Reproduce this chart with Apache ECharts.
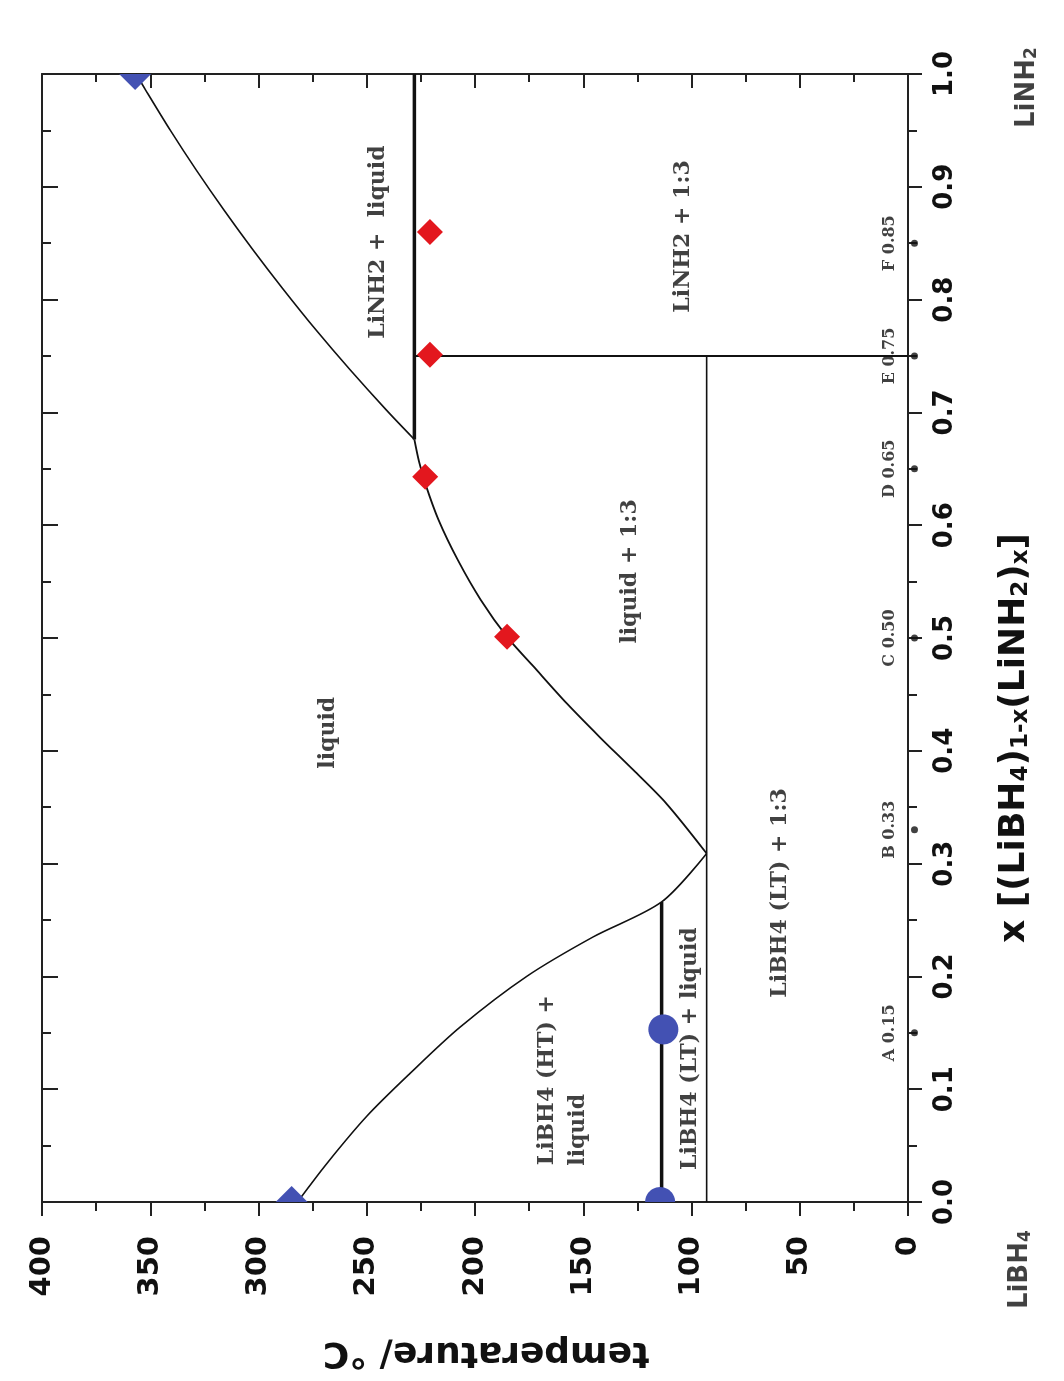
<!DOCTYPE html>
<html>
<head>
<meta charset="utf-8">
<script src="https://cdn.jsdelivr.net/npm/echarts@6/dist/echarts.min.js"></script>
<style>
  html, body { margin: 0; padding: 0; background: #ffffff; }
  #chart { width: 1064px; height: 1381px; }
</style>
</head>
<body>
<div id="chart"></div>
<script>
// Phase diagram of the LiBH4–LiNH2 system, drawn turned a quarter turn:
// temperature runs along the bottom (0 °C at the right), composition x up the right side.
// Every point is [temperature °C, x].

// Liquidus on the LiBH4-rich side, from the LiBH4 melting point down to the eutectic
const liquidusLiBH4 = [
  [282, 0.000], [268.5, 0.034], [250.0, 0.076], [230.0, 0.114], [206.9, 0.155],
  [176.1, 0.200], [145.4, 0.235], [113.8, 0.266], [93.0, 0.309]
];
// Liquidus of the 1:3 compound, from the eutectic up to the peritectic
const liquidus13 = [
  [93.0, 0.309], [111.5, 0.353], [126.9, 0.383], [142.3, 0.412], [157.6, 0.442],
  [173.1, 0.475], [185.2, 0.501], [197.4, 0.534], [207.9, 0.569], [216.9, 0.605],
  [222.8, 0.636], [225.8, 0.656], [228.0, 0.676]
];
// Liquidus on the LiNH2-rich side
const liquidusLiNH2 = [
  [228.0, 0.676], [240.9, 0.702], [257.8, 0.738], [273.4, 0.773], [288.5, 0.809],
  [302.5, 0.844], [315.8, 0.879], [328.8, 0.915], [340.7, 0.950], [352.2, 0.986],
  [356.5, 1.000]
];
// Invariant lines
const peritecticLine = [[228.0, 0.676], [228.0, 1.000]];
const lt_htTransition = [[113.8, 0.000], [113.8, 0.266]];
const eutecticLine = [[93.0, 0.000], [93.0, 0.750]];
const compound13Line = [[228.0, 0.750], [0.0, 0.750]];

// Measured thermal events
const dscPoints = [[223.0, 0.643], [185.2, 0.501], [220.8, 0.751], [220.8, 0.860]];
const pureCircles = [[114.5, 0.000], [113.0, 0.153]];
const pureDiamonds = [[284.7, 0.000], [357.0, 1.000]];

// Sample compositions marked on the composition axis
const sampleNames = ['A', 'B', 'C', 'D', 'E', 'F'];
const sampleX = [0.15, 0.33, 0.50, 0.65, 0.75, 0.85];

// Field labels: [temperature, x, text]
const fieldLabels = [
  [244.8, 0.851, 'LiNH2 +  liquid'],
  [103.9, 0.856, 'LiNH2 + 1:3'],
  [128.4, 0.559, 'liquid + 1:3'],
  [267.9, 0.416, 'liquid'],
  [59.1, 0.274, 'LiBH4 (LT) + 1:3'],
  [166.7, 0.108, 'LiBH4 (HT) +'],
  [152.4, 0.064, 'liquid'],
  [100.7, 0.136, 'LiBH4 (LT) + liquid']
];

// Axis ranges and tick steps
const tempRange = [0, 400], tempStep = 50;
const xRange = [0, 1], xStep = 0.1;

const AX = '#222';
const sansBold = { fontFamily: 'DejaVu Sans', fontWeight: 'bold', color: '#111' };
const serifBold = { fontFamily: 'DejaVu Serif', fontWeight: 'bold', color: '#111' };

function frameAxis(extra) {
  return Object.assign({
    type: 'value',
    axisLine: { show: true, onZero: false, lineStyle: { color: AX, width: 2 } },
    axisTick: { show: true, length: 14, lineStyle: { color: AX, width: 2 } },
    minorTick: { show: true, splitNumber: 2, length: 9, lineStyle: { color: AX, width: 2 } },
    splitLine: { show: false },
    minorSplitLine: { show: false }
  }, extra);
}

function lineSeries(data, width, smooth) {
  return {
    type: 'line', data: data, symbol: 'none', smooth: smooth || false, z: 3,
    lineStyle: { color: '#111', width: width }, silent: true, animation: false
  };
}

// Markers are cut at the plot frame: outline points are pulled onto the frame,
// so a marker sitting on an edge shows only its inner half.
function markerSeries(data, shape, color, size) {
  return {
    type: 'custom', data: data, z: 5, animation: false, silent: true,
    renderItem: function (params, api) {
      const p = api.coord([api.value(0), api.value(1)]);
      const cs = params.coordSys;
      const r = size / 2;
      let pts = [];
      if (shape === 'circle') {
        for (let k = 0; k < 48; k++) {
          const a = (k / 48) * Math.PI * 2;
          pts.push([p[0] + r * Math.cos(a), p[1] + r * Math.sin(a)]);
        }
      } else {
        pts = [[p[0], p[1] - r], [p[0] + r, p[1]], [p[0], p[1] + r], [p[0] - r, p[1]]];
      }
      pts = pts.map(function (q) {
        return [
          Math.min(Math.max(q[0], cs.x), cs.x + cs.width),
          Math.min(Math.max(q[1], cs.y), cs.y + cs.height)
        ];
      });
      return { type: 'polygon', shape: { points: pts }, style: { fill: color } };
    }
  };
}

const chart = echarts.init(document.getElementById('chart'), null, { renderer: 'canvas' });

chart.setOption({
  backgroundColor: '#ffffff',
  animation: false,
  grid: { left: 42, right: 156, top: 74, bottom: 179 },
  xAxis: [
    frameAxis({
      position: 'bottom', min: tempRange[0], max: tempRange[1], interval: tempStep, inverse: true,
      axisLabel: Object.assign({ rotate: 90, margin: 34, fontSize: 29 }, sansBold),
      name: 'temperature/ °C', nameLocation: 'middle', nameGap: 132, nameRotate: 180,
      nameTextStyle: Object.assign({ fontSize: 36, padding: [0, 22, 0, 0] }, sansBold)
    }),
    frameAxis({
      position: 'top', min: tempRange[0], max: tempRange[1], interval: tempStep, inverse: true,
      axisTick: { show: true, inside: true, length: 14, lineStyle: { color: AX, width: 2 } },
      minorTick: { show: true, splitNumber: 2, length: 8, lineStyle: { color: AX, width: 2 } },
      axisLabel: { show: false }
    })
  ],
  yAxis: [
    frameAxis({
      position: 'right', min: xRange[0], max: xRange[1], interval: xStep,
      axisLabel: Object.assign({
        rotate: 90, margin: 24, fontSize: 26,
        formatter: function (v) { return v.toFixed(1); }
      }, sansBold),
      name: '{n|x [(LiBH}{s|4}{n|)}{s|1-x}{n|(LiNH}{s|2}{n|)}{s|x}{n|]}',
      nameLocation: 'middle', nameGap: 89, nameRotate: 90,
      nameTextStyle: {
        padding: [0, 200, 0, 0],
        rich: {
          n: Object.assign({ fontSize: 36 }, sansBold),
          s: Object.assign({ fontSize: 23, verticalAlign: 'bottom', padding: [13, 0, 0, 0] }, sansBold)
        }
      }
    }),
    frameAxis({
      position: 'left', min: xRange[0], max: xRange[1], interval: xStep,
      axisTick: { show: true, inside: true, length: 16, lineStyle: { color: AX, width: 2 } },
      minorTick: { show: true, splitNumber: 2, length: 9, lineStyle: { color: AX, width: 2 } },
      axisLabel: { show: false }
    })
  ],
  series: [
    lineSeries(liquidusLiBH4, 1.6, 0.3),
    lineSeries(liquidus13, 1.8, 0.3),
    lineSeries(liquidusLiNH2, 1.6, 0.3),
    lineSeries(peritecticLine, 3.5),
    lineSeries(lt_htTransition, 3.5),
    lineSeries(eutecticLine, 1.6),
    lineSeries(compound13Line, 2.2),
    markerSeries(pureCircles, 'circle', '#4351b3', 30),
    markerSeries(pureDiamonds, 'diamond', '#4351b3', 32),
    markerSeries(dscPoints, 'diamond', '#e3171e', 26),
    {
      // sample composition dots just outside the axis line
      type: 'scatter', clip: false, z: 6, silent: true, animation: false,
      symbol: 'circle', symbolSize: 7, itemStyle: { color: '#111' },
      data: sampleX.map(function (x) { return [-3, x]; })
    },
    {
      // sample composition names
      type: 'scatter', clip: false, z: 6, silent: true, animation: false,
      symbolSize: 1, itemStyle: { color: 'rgba(0,0,0,0)' },
      data: sampleX.map(function (x, i) { return [8.5, x, sampleNames[i] + ' ' + x.toFixed(2)]; }),
      label: Object.assign({
        show: true, position: 'inside', rotate: 90, fontSize: 16,
        formatter: function (p) { return p.value[2]; }
      }, serifBold)
    },
    {
      // phase field names
      type: 'scatter', clip: false, z: 6, silent: true, animation: false,
      symbolSize: 1, itemStyle: { color: 'rgba(0,0,0,0)' },
      data: fieldLabels,
      label: Object.assign({
        show: true, position: 'inside', rotate: 90, fontSize: 22,
        formatter: function (p) { return p.value[2]; }
      }, serifBold)
    },
    {
      // end-member names beside the composition axis
      type: 'scatter', clip: false, z: 6, silent: true, animation: false,
      symbolSize: 1, itemStyle: { color: 'rgba(0,0,0,0)' },
      data: [[-52, -0.060, '{n|LiBH}{s|4}'], [-55, 0.988, '{n|LiNH}{s|2}']],
      label: {
        show: true, position: 'inside', rotate: 90,
        formatter: function (p) { return p.value[2]; },
        rich: {
          n: Object.assign({ fontSize: 26 }, sansBold),
          s: Object.assign({ fontSize: 17, verticalAlign: 'bottom', padding: [9, 0, 0, 0] }, sansBold)
        }
      }
    }
  ]
});
</script>
</body>
</html>
